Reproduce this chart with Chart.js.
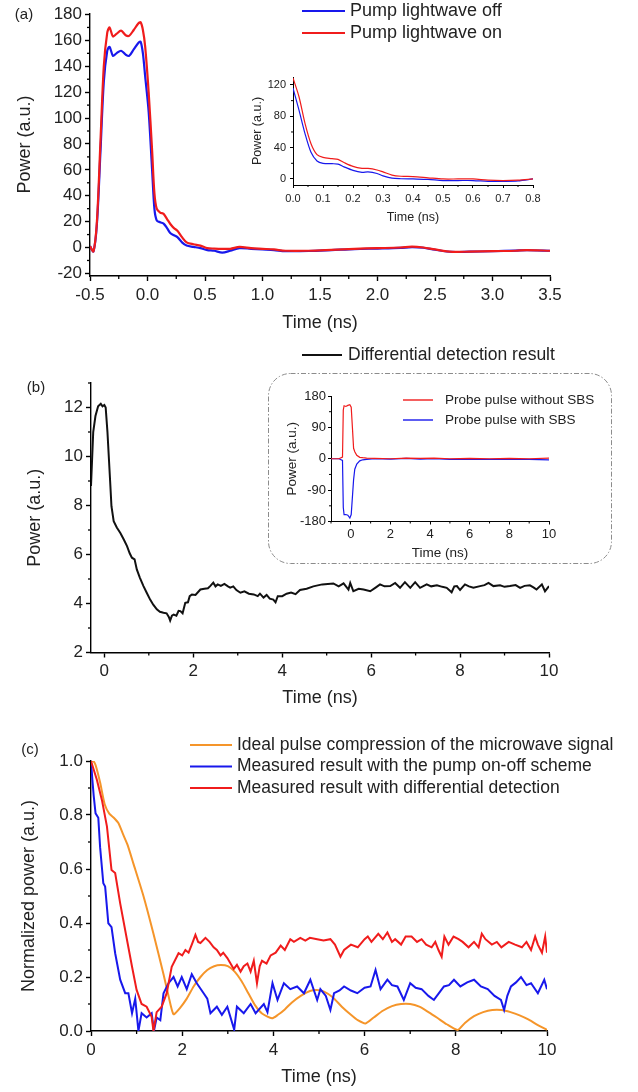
<!DOCTYPE html>
<html>
<head>
<meta charset="utf-8">
<script src="https://cdn.jsdelivr.net/npm/chart.js@4.4.1/dist/chart.umd.min.js"></script>
<style>
  html, body { margin: 0; padding: 0; background: #fff; }
  #page { position: relative; width: 638px; height: 1092px; overflow: hidden; }
  canvas { position: absolute; }
</style>
</head>
<body>
<div id="page">
  <canvas id="chartA" width="638" height="340" style="left:0px;top:0px"></canvas>
  <canvas id="chartAIn" width="310" height="172" style="left:240px;top:60px"></canvas>
  <canvas id="chartB" width="638" height="375" style="left:0px;top:340px"></canvas>
  <canvas id="chartBIn" width="344" height="194" style="left:268px;top:373px"></canvas>
  <canvas id="chartC" width="638" height="382" style="left:0px;top:710px"></canvas>
</div>
<script>
// ---- (a) pump lightwave off / on
const aTime = [-0.5, -0.47, -0.44, -0.41, -0.38, -0.35, -0.33, -0.30, -0.27, -0.23, -0.19, -0.16, -0.12, -0.08, -0.06, -0.04, -0.02,
  0.01, 0.04, 0.06, 0.08, 0.11, 0.14, 0.17, 0.20, 0.23, 0.26, 0.30, 0.34, 0.40, 0.46, 0.52, 0.58, 0.65, 0.72, 0.80, 0.90,
  1.0, 1.1, 1.2, 1.4, 1.6, 1.8, 2.0, 2.2, 2.3, 2.4, 2.5, 2.65, 2.8, 3.0, 3.2, 3.3, 3.5];
const aOn = [1, -3, 20, 80, 140, 166, 170, 163, 165, 167.5, 164, 163.5, 168, 173, 174, 168, 155,
  120, 75, 42, 30, 27, 26, 22, 18, 15, 13, 8, 4, 2.5, 1.5, -0.5, -0.8, -1, -1, 0.5, -0.5,
  -1, -1.5, -2.5, -2.5, -1.8, -1, -0.5, 0, 0.7, 0, -1.5, -3.3, -3.2, -2.8, -2.5, -2, -2.5];
const aOff = [1, -3, 18, 72, 128, 152, 155, 148, 150, 152, 149, 148, 153, 158, 159, 150, 132,
  105, 60, 30, 21, 19.5, 18.5, 15, 11, 9.5, 8, 4, 1.5, 0.5, -0.5, -2, -2.5, -4, -2.5, -0.5, -1,
  -1.5, -2, -2.8, -2.7, -2, -1.2, -0.8, -0.3, 0.3, -0.2, -1.7, -3.4, -3.2, -2.9, -2.4, -2.1, -2.5];
const aXTicks = [-0.5, 0, 0.5, 1, 1.5, 2, 2.5, 3, 3.5];
const aYTicks = [-20, 0, 20, 40, 60, 80, 100, 120, 140, 160, 180];

// inset of (a)
const aInTime = [0, 0.02, 0.04, 0.06, 0.08, 0.1, 0.13, 0.15, 0.17, 0.2, 0.23, 0.25, 0.28, 0.3, 0.33, 0.36, 0.4, 0.45, 0.5, 0.55, 0.6, 0.65, 0.7, 0.75, 0.8];
const aInOn = [129, 105, 71, 45, 31, 27.5, 26, 25, 21, 16, 13.5, 13.5, 11.5, 9, 5, 3.5, 3, 1.5, 0, 0, 0, -1.5, -2, -1.5, 0];
const aInOff = [116, 88, 58, 34, 23, 20, 19.5, 19, 15.5, 11, 8.5, 9, 7, 4, 1, 0.3, 0, -0.5, -2, -2, -2, -3, -3, -2.5, 0];
const aInXTicks = [0, 0.1, 0.2, 0.3, 0.4, 0.5, 0.6, 0.7, 0.8];
const aInYTicks = [0, 40, 80, 120];

// ---- (b) differential detection result
const bTime = [-0.3, -0.25, -0.2, -0.14, -0.08, -0.04, 0, 0.03, 0.07, 0.1, 0.13, 0.16, 0.21, 0.28, 0.36, 0.44, 0.51, 0.57, 0.62, 0.68, 0.73, 0.8, 0.88, 0.95,
  1.03, 1.1, 1.18, 1.25, 1.33, 1.4, 1.45, 1.48, 1.52, 1.56, 1.62, 1.67, 1.71, 1.76, 1.82, 1.88, 1.92, 1.97, 2.05, 2.16, 2.25, 2.33, 2.38, 2.45, 2.5, 2.55, 2.62,
  2.7, 2.78, 2.83, 2.9, 2.97, 3.06, 3.15, 3.25, 3.36, 3.45, 3.5, 3.58, 3.65, 3.72, 3.8, 3.85, 3.9, 4.0, 4.1, 4.2, 4.3, 4.4, 4.55, 4.7, 4.9,
  5.15, 5.27, 5.38, 5.49, 5.53, 5.6, 5.72, 5.83, 5.98, 6.1, 6.2, 6.3, 6.43, 6.54, 6.65, 6.76, 6.88, 6.99, 7.1, 7.25, 7.35, 7.48, 7.6, 7.7, 7.81, 7.87,
  7.93, 8.0, 8.11, 8.2, 8.3, 8.45, 8.55, 8.64, 8.75, 8.9, 9.0, 9.12, 9.25, 9.35, 9.45, 9.57, 9.65, 9.72, 9.84, 9.91, 10.0];
const bDiff = [8.8, 11.0, 11.65, 12.05, 12.15, 12.05, 12.1, 12.0, 11.0, 10.0, 9.0, 7.97, 7.36, 7.1, 6.88, 6.6, 6.34, 6.05, 5.87, 5.8, 5.39, 5.05, 4.71, 4.45,
  4.16, 3.95, 3.76, 3.66, 3.62, 3.6, 3.45, 3.3, 3.5, 3.55, 3.5, 3.7, 3.69, 3.6, 4.03, 4.05, 4.3, 4.37, 4.35, 4.57, 4.6, 4.62, 4.71, 4.85, 4.7, 4.78, 4.72,
  4.8, 4.7, 4.65, 4.7, 4.55, 4.44, 4.5, 4.4, 4.37, 4.3, 4.4, 4.24, 4.35, 4.2, 4.16, 4.05, 4.3, 4.3, 4.4, 4.45, 4.38, 4.55, 4.6, 4.7, 4.78,
  4.82, 4.7, 4.82, 4.57, 4.84, 4.5, 4.6, 4.57, 4.5, 4.65, 4.78, 4.7, 4.71, 4.84, 4.64, 4.87, 4.64, 4.87, 4.64, 4.78, 4.7, 4.74, 4.68, 4.64, 4.46, 4.7,
  4.71, 4.55, 4.78, 4.7, 4.64, 4.71, 4.75, 4.84, 4.71, 4.74, 4.68, 4.71, 4.75, 4.64, 4.72, 4.74, 4.66, 4.57, 4.78, 4.5, 4.71];
const bXTicks = [0, 2, 4, 6, 8, 10];
const bYTicks = [2, 4, 6, 8, 10, 12];

// inset of (b)
const bInTime = [-1, -0.6, -0.42, -0.38, -0.34, -0.25, -0.15, -0.05, 0.02, 0.08, 0.14, 0.2, 0.3, 0.45, 0.6, 0.8, 1.2, 2, 2.8, 3.5, 4.2, 5, 6, 7, 8, 9, 10];
const bInWithout = [0, 0, 5, 140, 152, 150, 153, 155, 148, 90, 30, 20, 10, 4, 3, 2, 1, 0, 2, 1, 2, 0, 1, 0, 1, 0, 2];
const bInWith = [0, 0, -5, -140, -160, -160, -162, -170, -160, -110, -60, -30, -15, -6, -3, -2, 0, -1, 1, -1, 0, -2, -1, -2, -1, -2, -3];
const bInXTicks = [0, 2, 4, 6, 8, 10];
const bInYTicks = [-180, -90, 0, 90, 180];

// ---- (c) normalized comparison
const cIdealT = [0, 0.05, 0.1, 0.2, 0.3, 0.4, 0.5, 0.6, 0.7, 0.8, 0.93, 1.15, 1.37, 1.59, 1.7, 1.81,
  1.95, 2.1, 2.25, 2.4, 2.55, 2.7, 2.85, 3.0, 3.15, 3.3, 3.45, 3.6, 3.75, 3.97,
  4.1, 4.25, 4.4, 4.6, 4.8, 4.95, 5.1, 5.3, 5.5, 5.7, 5.85, 6.02,
  6.2, 6.4, 6.6, 6.8, 7.0, 7.2, 7.4, 7.6, 7.8, 8.04,
  8.2, 8.4, 8.6, 8.8, 9.0, 9.2, 9.4, 9.6, 9.8, 10];
const cIdeal = [1.0, 1.0, 0.985, 0.92, 0.84, 0.805, 0.79, 0.77, 0.73, 0.69, 0.62, 0.5, 0.36, 0.21, 0.13, 0.062,
  0.085, 0.12, 0.165, 0.2, 0.226, 0.24, 0.244, 0.24, 0.22, 0.185, 0.14, 0.095, 0.065, 0.047,
  0.06, 0.08, 0.105, 0.13, 0.148, 0.152, 0.147, 0.125, 0.09, 0.06, 0.04, 0.028,
  0.05, 0.075, 0.092, 0.1, 0.1, 0.09, 0.07, 0.048, 0.025, 0.004,
  0.03, 0.055, 0.07, 0.078, 0.078, 0.07, 0.058, 0.042, 0.022, 0.004];
const cOnOffT = [0, 0.03, 0.06, 0.1, 0.16, 0.2, 0.27, 0.31, 0.38, 0.45, 0.53, 0.64, 0.75, 0.82, 0.9, 0.97, 1.04, 1.11, 1.22, 1.33, 1.38, 1.44, 1.52,
  1.59, 1.7, 1.81, 1.9, 1.99, 2.1, 2.21, 2.32, 2.47, 2.55, 2.62, 2.76, 2.87, 2.99, 3.14, 3.2, 3.35, 3.5, 3.61, 3.79, 3.87, 3.98,
  4.09, 4.23, 4.37, 4.52, 4.67, 4.81, 4.96, 5.03, 5.15, 5.25, 5.33, 5.45, 5.55, 5.7, 5.84, 6.0, 6.13, 6.24, 6.35, 6.5, 6.6, 6.72,
  6.86, 7.0, 7.12, 7.25, 7.4, 7.52, 7.63, 7.74, 7.85, 7.96, 8.1, 8.25, 8.4, 8.55, 8.7, 8.85, 8.99, 9.06, 9.13, 9.21, 9.32, 9.43,
  9.55, 9.65, 9.8, 9.94, 10];
const cOnOff = [1.0, 0.93, 0.87, 0.806, 0.79, 0.68, 0.547, 0.535, 0.399, 0.385, 0.288, 0.19, 0.14, 0.14, 0.066, 0.12, 0.0, 0.066, 0.05, 0.066, 0.0, 0.05, 0.04,
  0.14, 0.177, 0.2, 0.165, 0.2, 0.155, 0.21, 0.177, 0.14, 0.12, 0.066, 0.09, 0.06, 0.09, 0.005, 0.09, 0.066, 0.1, 0.066, 0.1, 0.07, 0.177,
  0.115, 0.177, 0.155, 0.165, 0.14, 0.19, 0.115, 0.155, 0.13, 0.078, 0.14, 0.15, 0.165, 0.15, 0.14, 0.16, 0.165, 0.226, 0.155, 0.19, 0.17, 0.165,
  0.115, 0.177, 0.16, 0.155, 0.13, 0.115, 0.14, 0.165, 0.17, 0.19, 0.165, 0.18, 0.19, 0.165, 0.155, 0.13, 0.115, 0.078, 0.13, 0.165, 0.18, 0.2,
  0.17, 0.177, 0.14, 0.19, 0.155];
const cDiffT = [0, 0.13, 0.24, 0.35, 0.45, 0.53, 0.64, 0.79, 0.9, 1.0, 1.11, 1.22, 1.33, 1.37, 1.44, 1.55, 1.66, 1.77, 1.92, 2.0, 2.07, 2.14, 2.21,
  2.29, 2.35, 2.4, 2.51, 2.6, 2.69, 2.76, 2.84, 2.9, 2.99, 3.06, 3.13, 3.2, 3.28, 3.35, 3.43, 3.5, 3.57, 3.64, 3.7, 3.75, 3.85, 3.94,
  4.05, 4.16, 4.25, 4.37, 4.45, 4.59, 4.7, 4.8, 4.96, 5.1, 5.25, 5.35, 5.47, 5.55, 5.7, 5.85, 6.0, 6.07, 6.15, 6.3, 6.4, 6.5, 6.6,
  6.67, 6.8, 6.9, 7.03, 7.15, 7.25, 7.35, 7.47, 7.55, 7.62, 7.69, 7.75, 7.84, 7.95, 8.06, 8.15, 8.28, 8.4, 8.5, 8.57, 8.65, 8.79,
  8.9, 9.0, 9.16, 9.3, 9.45, 9.55, 9.65, 9.74, 9.8, 9.89, 9.96, 10];
const cDiff = [1.0, 0.93, 0.855, 0.757, 0.596, 0.585, 0.473, 0.337, 0.238, 0.152, 0.1, 0.09, 0.053, 0.0, 0.07, 0.09, 0.14, 0.238, 0.288, 0.28, 0.3, 0.29, 0.32,
  0.356, 0.33, 0.326, 0.345, 0.33, 0.31, 0.3, 0.28, 0.29, 0.27, 0.25, 0.23, 0.245, 0.22, 0.24, 0.25, 0.22, 0.26, 0.177, 0.24, 0.26, 0.25, 0.28,
  0.29, 0.316, 0.3, 0.34, 0.33, 0.345, 0.335, 0.345, 0.34, 0.335, 0.34, 0.32, 0.275, 0.3, 0.32, 0.31, 0.34, 0.35, 0.33, 0.36, 0.34, 0.365, 0.33,
  0.34, 0.32, 0.35, 0.35, 0.33, 0.34, 0.32, 0.31, 0.33, 0.3, 0.275, 0.35, 0.32, 0.35, 0.34, 0.33, 0.31, 0.33, 0.31, 0.36, 0.34, 0.32,
  0.33, 0.31, 0.33, 0.32, 0.31, 0.33, 0.3, 0.35, 0.32, 0.29, 0.35, 0.29];
const cXTicks = [0, 2, 4, 6, 8, 10];
const cYTicks = [0, 0.2, 0.4, 0.6, 0.8, 1.0];

const RED = '#f01c1c';
const BLUE = '#1818ec';
const ORANGE = '#f5952a';
const FONT = "'Liberation Sans', Arial, sans-serif";

Chart.defaults.font.family = FONT;
Chart.defaults.color = '#222';

// minor ticks, hand-placed legend rows, panel letter and dotted frame
const decor = {
  id: 'decor',
  beforeDraw(chart, args, o) {
    if (!o.frame) return;
    const ctx = chart.ctx, f = o.frame;
    ctx.save();
    ctx.strokeStyle = '#8c8c8c';
    ctx.lineWidth = 1;
    ctx.setLineDash([5, 2, 1.5, 2]);
    ctx.beginPath();
    ctx.roundRect(f.x, f.y, f.w, f.h, f.r);
    ctx.stroke();
    ctx.restore();
  },
  afterDraw(chart, args, o) {
    const ctx = chart.ctx, area = chart.chartArea;
    ctx.save();
    ctx.strokeStyle = '#000';
    ctx.lineWidth = o.tickWidth || 1.3;
    ['x', 'y'].forEach(k => {
      const m = o.minor && o.minor[k];
      if (!m) return;
      const s = chart.scales[k];
      for (let i = Math.ceil(s.min / m.step - 1e-9); i * m.step <= s.max + 1e-9; i++) {
        const v = i * m.step, r = v / m.major;
        if (Math.abs(r - Math.round(r)) < 1e-6) continue;
        const p = s.getPixelForValue(v);
        ctx.beginPath();
        if (k === 'x') { ctx.moveTo(p, area.bottom); ctx.lineTo(p, area.bottom + m.len); }
        else { ctx.moveTo(area.left, p); ctx.lineTo(area.left - m.len, p); }
        ctx.stroke();
      }
    });
    if (o.key) {
      const kk = o.key;
      ctx.font = kk.size + 'px ' + FONT;
      ctx.textBaseline = 'middle';
      ctx.textAlign = 'left';
      kk.order.forEach((di, i) => {
        const ds = chart.data.datasets[di];
        const y = kk.y + i * kk.gap;
        ctx.strokeStyle = ds.borderColor;
        ctx.lineWidth = kk.lw;
        ctx.beginPath();
        ctx.moveTo(kk.x0, y);
        ctx.lineTo(kk.x1, y);
        ctx.stroke();
        ctx.fillStyle = '#222';
        ctx.fillText(ds.label, kk.tx, y);
      });
    }
    if (o.letter) {
      ctx.font = o.letter.size + 'px ' + FONT;
      ctx.fillStyle = '#222';
      ctx.textAlign = 'center';
      ctx.textBaseline = 'middle';
      ctx.fillText(o.letter.text, o.letter.x, o.letter.y);
    }
    ctx.restore();
  }
};
Chart.register(decor);

const pts = (xs, ys) => xs.map((x, i) => ({ x: x, y: ys[i] }));
const f1 = v => v.toFixed(1);
const f0 = v => String(v);

function axis(min, max, ticks, fmt, title, o) {
  return {
    type: 'linear',
    min: min,
    max: max,
    afterBuildTicks: s => { s.ticks = ticks.map(v => ({ value: v })); },
    afterFit: s => { if (s.isHorizontal()) s.height = o.size; else s.width = o.size; },
    ticks: { autoSkip: false, maxRotation: 0, padding: o.pad, font: { size: o.tickSize }, color: '#222', callback: fmt },
    grid: { display: true, drawOnChartArea: false, drawTicks: true, tickLength: o.tl, tickColor: '#000', tickWidth: o.lw },
    border: { display: true, color: '#000', width: o.lw },
    title: { display: true, text: title, font: { size: o.titleSize }, color: '#222', padding: { top: 4, bottom: 4 } }
  };
}

function line(label, data, color, width, tension) {
  return { label: label, data: data, borderColor: color, backgroundColor: color, borderWidth: width,
    pointRadius: 0, fill: false, tension: tension };
}

function makeChart(id, datasets, scales, padding, decorOpts) {
  return new Chart(document.getElementById(id), {
    type: 'line',
    data: { datasets: datasets },
    options: {
      responsive: false,
      animation: false,
      devicePixelRatio: 1,
      layout: { padding: padding },
      plugins: { legend: { display: false }, tooltip: { enabled: false }, decor: decorOpts },
      scales: scales
    }
  });
}

const big = { tickSize: 17, titleSize: 18, tl: 5, pad: 4, lw: 1.4 };

// (a)
makeChart('chartA', [
  line('Pump lightwave on', pts(aTime, aOn), RED, 2.2, 0.3),
  line('Pump lightwave off', pts(aTime, aOff), BLUE, 2.2, 0.3)
], {
  x: axis(-0.5, 3.5, aXTicks, f1, 'Time (ns)', Object.assign({}, big, { size: 62 })),
  y: axis(-22, 181, aYTicks, f0, 'Power (a.u.)', Object.assign({}, big, { size: 80, pad: 3 }))
}, { left: 10, right: 88, top: 11, bottom: 2 }, {
  minor: { x: { step: 0.25, major: 0.5, len: 3 }, y: { step: 10, major: 20, len: 3 } },
  key: { order: [1, 0], x0: 302, x1: 345, tx: 350, y: 11, gap: 22, size: 18, lw: 2.2 },
  letter: { text: '(a)', x: 24, y: 15, size: 15 }
});

// inset of (a)
const small = { tickSize: 11, titleSize: 12.5, tl: 3, pad: 4, lw: 1 };
makeChart('chartAIn', [
  line('Pump lightwave on', pts(aInTime, aInOn), RED, 1.2, 0.3),
  line('Pump lightwave off', pts(aInTime, aInOff), BLUE, 1.2, 0.3)
], {
  x: axis(0, 0.8, aInXTicks, f1, 'Time (ns)', Object.assign({}, small, { size: 44.5 })),
  y: axis(-7.7, 130.2, aInYTicks, f0, 'Power (a.u.)', Object.assign({}, small, { size: 46.5 }))
}, { left: 6.5, right: 17, top: 17, bottom: 2.5 }, {
  tickWidth: 1,
  minor: { x: { step: 0.05, major: 0.1, len: 2 }, y: { step: 20, major: 40, len: 2 } }
});

// (b)
makeChart('chartB', [
  line('Differential detection result', pts(bTime, bDiff), '#111', 2, 0)
], {
  x: axis(-0.3, 10, bXTicks, f0, 'Time (ns)', Object.assign({}, big, { size: 60.5 })),
  y: axis(2, 13, bYTicks, f0, 'Power (a.u.)', Object.assign({}, big, { size: 71, pad: 3 }))
}, { left: 20, right: 89, top: 43, bottom: 2 }, {
  minor: { x: { step: 1, major: 2, len: 3 }, y: { step: 1, major: 2, len: 3 } },
  key: { order: [0], x0: 302, x1: 342, tx: 348, y: 15, gap: 22, size: 17.5, lw: 2 },
  letter: { text: '(b)', x: 36, y: 48, size: 15 }
});

// inset of (b)
const mid = { tickSize: 13, titleSize: 13.5, tl: 3, pad: 2, lw: 1 };
makeChart('chartBIn', [
  line('Probe pulse without SBS', pts(bInTime, bInWithout), RED, 1.2, 0),
  line('Probe pulse with SBS', pts(bInTime, bInWith), BLUE, 1.2, 0)
], {
  x: axis(-1, 10, bInXTicks, f0, 'Time (ns)', Object.assign({}, mid, { size: 43.5 })),
  y: axis(-180, 180, bInYTicks, f0, 'Power (a.u.)', Object.assign({}, mid, { size: 51 }))
}, { left: 12, right: 63, top: 23, bottom: 2 }, {
  tickWidth: 1,
  minor: { x: { step: 1, major: 2, len: 2 }, y: { step: 45, major: 90, len: 2 } },
  frame: { x: 0.5, y: 0.5, w: 343, h: 190, r: 22 },
  key: { order: [0, 1], x0: 135, x1: 165, tx: 177, y: 27, gap: 20, size: 13.5, lw: 1.4 }
});

// (c)
makeChart('chartC', [
  line('Measured result with differential detection', pts(cDiffT, cDiff), RED, 2, 0),
  line('Measured result with the pump on-off scheme', pts(cOnOffT, cOnOff), BLUE, 2, 0),
  line('Ideal pulse compression of the microwave signal', pts(cIdealT, cIdeal), ORANGE, 2, 0.2)
], {
  x: axis(0, 10, cXTicks, f0, 'Time (ns)', Object.assign({}, big, { size: 61 })),
  y: axis(0, 1, cYTicks, f1, 'Normalized power (a.u.)', Object.assign({}, big, { size: 77, pad: 3 }))
}, { left: 14, right: 91, top: 51, bottom: 0 }, {
  minor: { x: { step: 1, major: 2, len: 3 }, y: { step: 0.1, major: 0.2, len: 3 } },
  key: { order: [2, 1, 0], x0: 190, x1: 232, tx: 237, y: 35, gap: 21.5, size: 17.5, lw: 2 },
  letter: { text: '(c)', x: 30, y: 40, size: 15 }
});
</script>
</body>
</html>
